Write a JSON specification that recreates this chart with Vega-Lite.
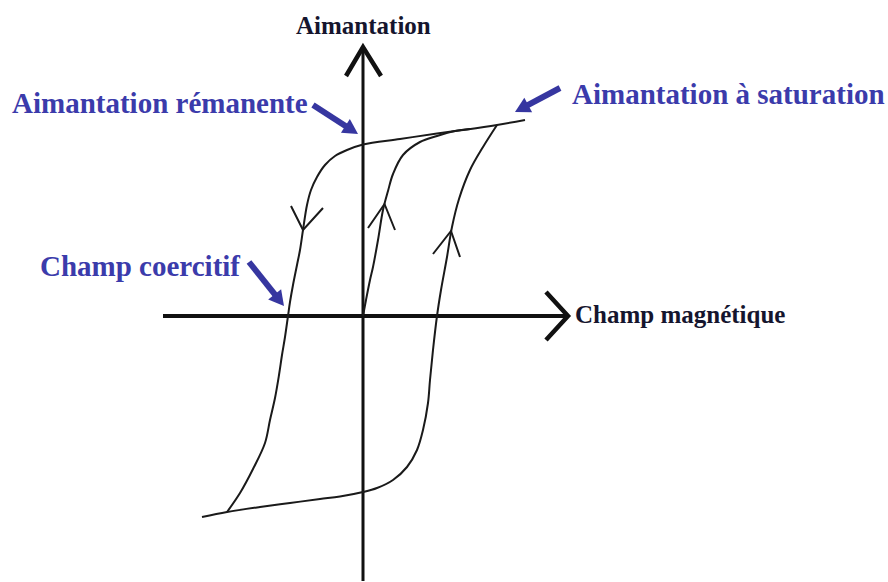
{
  "$schema": "https://vega.github.io/schema/vega-lite/v6.json",
  "width": 888,
  "height": 582,
  "padding": 0,
  "autosize": {"type": "fit", "contains": "padding"},
  "background": "white",
  "config": {"view": {"stroke": null}},
  "datasets": {
    "axes": [
      {"part": "vertical axis", "i": 0, "H": 0, "M": -26.5},
      {"part": "vertical axis", "i": 1, "H": 0, "M": 26.6},
      {"part": "horizontal axis", "i": 0, "H": -20.0, "M": 0},
      {"part": "horizontal axis", "i": 1, "H": 20.2, "M": 0},
      {"part": "vertical arrowhead", "i": 0, "H": -1.7, "M": 24.0},
      {"part": "vertical arrowhead", "i": 1, "H": 0, "M": 26.9},
      {"part": "vertical arrowhead", "i": 2, "H": 1.8, "M": 24.0},
      {"part": "horizontal arrowhead", "i": 0, "H": 18.3, "M": 2.4},
      {"part": "horizontal arrowhead", "i": 1, "H": 20.5, "M": 0},
      {"part": "horizontal arrowhead", "i": 2, "H": 18.3, "M": -2.4}
    ],
    "loop": [
      {"branch": "descending", "i": 0, "H": 16.2, "M": 19.6},
      {"branch": "descending", "i": 1, "H": 13.4, "M": 19.1},
      {"branch": "descending", "i": 2, "H": 10.4, "M": 18.65},
      {"branch": "descending", "i": 3, "H": 7.4, "M": 18.25},
      {"branch": "descending", "i": 4, "H": 3.7, "M": 17.7},
      {"branch": "descending", "i": 5, "H": 0, "M": 17.15},
      {"branch": "descending", "i": 6, "H": -1.6, "M": 16.6},
      {"branch": "descending", "i": 7, "H": -2.8, "M": 16.0},
      {"branch": "descending", "i": 8, "H": -3.8, "M": 15.1},
      {"branch": "descending", "i": 9, "H": -4.6, "M": 13.9},
      {"branch": "descending", "i": 10, "H": -5.2, "M": 12.6},
      {"branch": "descending", "i": 11, "H": -5.6, "M": 11.1},
      {"branch": "descending", "i": 12, "H": -6.0, "M": 8.6},
      {"branch": "descending", "i": 13, "H": -6.3, "M": 6.6},
      {"branch": "descending", "i": 14, "H": -6.6, "M": 5.1},
      {"branch": "descending", "i": 15, "H": -7.0, "M": 3.1},
      {"branch": "descending", "i": 16, "H": -7.3, "M": 1.4},
      {"branch": "descending", "i": 17, "H": -7.5, "M": 0},
      {"branch": "descending", "i": 18, "H": -7.8, "M": -2.1},
      {"branch": "descending", "i": 19, "H": -8.1, "M": -3.9},
      {"branch": "descending", "i": 20, "H": -8.4, "M": -5.9},
      {"branch": "descending", "i": 21, "H": -8.8, "M": -8.2},
      {"branch": "descending", "i": 22, "H": -9.3, "M": -10.4},
      {"branch": "descending", "i": 23, "H": -9.8, "M": -12.7},
      {"branch": "descending", "i": 24, "H": -11.0, "M": -15.3},
      {"branch": "descending", "i": 25, "H": -12.3, "M": -17.7},
      {"branch": "descending", "i": 26, "H": -13.6, "M": -19.6},
      {"branch": "ascending", "i": 0, "H": -16.1, "M": -20.1},
      {"branch": "ascending", "i": 1, "H": -13.6, "M": -19.6},
      {"branch": "ascending", "i": 2, "H": -10.3, "M": -19.1},
      {"branch": "ascending", "i": 3, "H": -7.3, "M": -18.7},
      {"branch": "ascending", "i": 4, "H": -4.3, "M": -18.3},
      {"branch": "ascending", "i": 5, "H": -2.3, "M": -18.05},
      {"branch": "ascending", "i": 6, "H": 0, "M": -17.6},
      {"branch": "ascending", "i": 7, "H": 1.4, "M": -17.2},
      {"branch": "ascending", "i": 8, "H": 3.0, "M": -16.4},
      {"branch": "ascending", "i": 9, "H": 4.4, "M": -15.1},
      {"branch": "ascending", "i": 10, "H": 5.4, "M": -13.4},
      {"branch": "ascending", "i": 11, "H": 6.0, "M": -11.4},
      {"branch": "ascending", "i": 12, "H": 6.5, "M": -8.7},
      {"branch": "ascending", "i": 13, "H": 6.7, "M": -6.4},
      {"branch": "ascending", "i": 14, "H": 7.0, "M": -3.4},
      {"branch": "ascending", "i": 15, "H": 7.4, "M": 0},
      {"branch": "ascending", "i": 16, "H": 7.8, "M": 2.6},
      {"branch": "ascending", "i": 17, "H": 8.4, "M": 5.9},
      {"branch": "ascending", "i": 18, "H": 8.9, "M": 8.9},
      {"branch": "ascending", "i": 19, "H": 9.6, "M": 11.7},
      {"branch": "ascending", "i": 20, "H": 10.7, "M": 14.6},
      {"branch": "ascending", "i": 21, "H": 12.0, "M": 16.9},
      {"branch": "ascending", "i": 22, "H": 13.4, "M": 19.1},
      {"branch": "initial", "i": 0, "H": 0, "M": 0},
      {"branch": "initial", "i": 1, "H": 0.3, "M": 1.6},
      {"branch": "initial", "i": 2, "H": 0.7, "M": 3.6},
      {"branch": "initial", "i": 3, "H": 1.0, "M": 4.9},
      {"branch": "initial", "i": 4, "H": 1.5, "M": 7.6},
      {"branch": "initial", "i": 5, "H": 2.0, "M": 10.6},
      {"branch": "initial", "i": 6, "H": 2.5, "M": 12.5},
      {"branch": "initial", "i": 7, "H": 3.0, "M": 14.2},
      {"branch": "initial", "i": 8, "H": 4.0, "M": 16.1},
      {"branch": "initial", "i": 9, "H": 5.7, "M": 17.4},
      {"branch": "initial", "i": 10, "H": 7.4, "M": 18.0},
      {"branch": "initial", "i": 11, "H": 9.2, "M": 18.5},
      {"branch": "initial", "i": 12, "H": 10.7, "M": 18.7}
    ],
    "chevrons": [
      {"branch": "descending", "i": 0, "H": -7.2, "M": 11.0},
      {"branch": "descending", "i": 1, "H": -6.0, "M": 8.6},
      {"branch": "descending", "i": 2, "H": -4.0, "M": 10.8},
      {"branch": "initial", "i": 0, "H": 0.5, "M": 8.8},
      {"branch": "initial", "i": 1, "H": 2.15, "M": 11.2},
      {"branch": "initial", "i": 2, "H": 3.2, "M": 8.6},
      {"branch": "ascending", "i": 0, "H": 7.0, "M": 6.2},
      {"branch": "ascending", "i": 1, "H": 8.8, "M": 8.5},
      {"branch": "ascending", "i": 2, "H": 9.7, "M": 5.9}
    ],
    "arrows": [
      {"arrow": "remanente", "tailH": -5.0, "tailM": 21.1, "neckH": -1.17, "neckM": 18.63, "tipH": -0.5, "tipM": 18.2},
      {"arrow": "saturation", "tailH": 19.7, "tailM": 22.8, "neckH": 15.91, "neckM": 20.78, "tipH": 15.2, "tipM": 20.4},
      {"arrow": "coercitif", "tailH": -11.4, "tailM": 5.4, "neckH": -8.4, "neckM": 1.63, "tipH": -7.9, "tipM": 1.0}
    ],
    "labels": [
      {"text": "Aimantation", "role": "axis", "H": -6.7, "M": 28.2},
      {"text": "Champ magnétique", "role": "axis", "H": 21.2, "M": -0.7},
      {"text": "Aimantation rémanente", "role": "annotation", "H": -35.1, "M": 20.3},
      {"text": "Aimantation à saturation", "role": "annotation", "H": 20.9, "M": 21.2},
      {"text": "Champ coercitif", "role": "annotation", "H": -32.3, "M": 4.0}
    ]
  },
  "encoding": {
    "x": {"field": "H", "type": "quantitative", "scale": {"domain": [-36.3, 52.5], "nice": false, "zero": false}, "axis": null},
    "y": {"field": "M", "type": "quantitative", "scale": {"domain": [-26.6, 31.6], "nice": false, "zero": false}, "axis": null}
  },
  "layer": [
    {
      "data": {"name": "axes"},
      "transform": [{"filter": "datum.part == 'vertical axis'"}],
      "mark": {"type": "line", "color": "#111111", "strokeWidth": 3, "clip": true},
      "encoding": {"order": {"field": "i", "type": "quantitative"}}
    },
    {
      "data": {"name": "axes"},
      "transform": [{"filter": "datum.part == 'horizontal axis'"}],
      "mark": {"type": "line", "color": "#111111", "strokeWidth": 4},
      "encoding": {"order": {"field": "i", "type": "quantitative"}}
    },
    {
      "data": {"name": "axes"},
      "transform": [{"filter": "datum.part == 'vertical arrowhead' || datum.part == 'horizontal arrowhead'"}],
      "mark": {"type": "line", "color": "#111111", "strokeWidth": 4.5, "strokeJoin": "miter", "strokeCap": "butt"},
      "encoding": {"detail": {"field": "part"}, "order": {"field": "i", "type": "quantitative"}}
    },
    {
      "data": {"name": "loop"},
      "mark": {"type": "line", "color": "#1a1a1a", "strokeWidth": 2, "interpolate": "catmull-rom"},
      "encoding": {"detail": {"field": "branch"}, "order": {"field": "i", "type": "quantitative"}}
    },
    {
      "data": {"name": "chevrons"},
      "mark": {"type": "line", "color": "#1a1a1a", "strokeWidth": 2, "strokeJoin": "miter"},
      "encoding": {"detail": {"field": "branch"}, "order": {"field": "i", "type": "quantitative"}}
    },
    {
      "data": {"name": "arrows"},
      "mark": {"type": "rule", "color": "#3636a0", "strokeWidth": 6},
      "encoding": {
        "x": {"field": "tailH", "type": "quantitative"},
        "y": {"field": "tailM", "type": "quantitative"},
        "x2": {"field": "neckH"},
        "y2": {"field": "neckM"}
      }
    },
    {
      "data": {"name": "arrows"},
      "transform": [{"filter": "datum.arrow == 'remanente'"}],
      "mark": {"type": "point", "shape": "M0,0L-0.55,1L0.55,1Z", "size": 900, "filled": true, "opacity": 1, "color": "#3636a0", "strokeWidth": 0, "angle": 122.8},
      "encoding": {"x": {"field": "tipH", "type": "quantitative"}, "y": {"field": "tipM", "type": "quantitative"}}
    },
    {
      "data": {"name": "arrows"},
      "transform": [{"filter": "datum.arrow == 'saturation'"}],
      "mark": {"type": "point", "shape": "M0,0L-0.55,1L0.55,1Z", "size": 900, "filled": true, "opacity": 1, "color": "#3636a0", "strokeWidth": 0, "angle": 241.9},
      "encoding": {"x": {"field": "tipH", "type": "quantitative"}, "y": {"field": "tipM", "type": "quantitative"}}
    },
    {
      "data": {"name": "arrows"},
      "transform": [{"filter": "datum.arrow == 'coercitif'"}],
      "mark": {"type": "point", "shape": "M0,0L-0.55,1L0.55,1Z", "size": 900, "filled": true, "opacity": 1, "color": "#3636a0", "strokeWidth": 0, "angle": 141.5},
      "encoding": {"x": {"field": "tipH", "type": "quantitative"}, "y": {"field": "tipM", "type": "quantitative"}}
    },
    {
      "data": {"name": "labels"},
      "transform": [{"filter": "datum.role == 'annotation'"}],
      "mark": {"type": "text", "font": "Liberation Serif", "fontWeight": "bold", "fontSize": 29, "align": "left", "baseline": "alphabetic", "color": "#3b3bab"},
      "encoding": {"text": {"field": "text"}}
    },
    {
      "data": {"name": "labels"},
      "transform": [{"filter": "datum.role == 'axis'"}],
      "mark": {"type": "text", "font": "Liberation Serif", "fontWeight": "bold", "fontSize": 25, "align": "left", "baseline": "alphabetic", "color": "#15152e"},
      "encoding": {"text": {"field": "text"}}
    }
  ]
}
